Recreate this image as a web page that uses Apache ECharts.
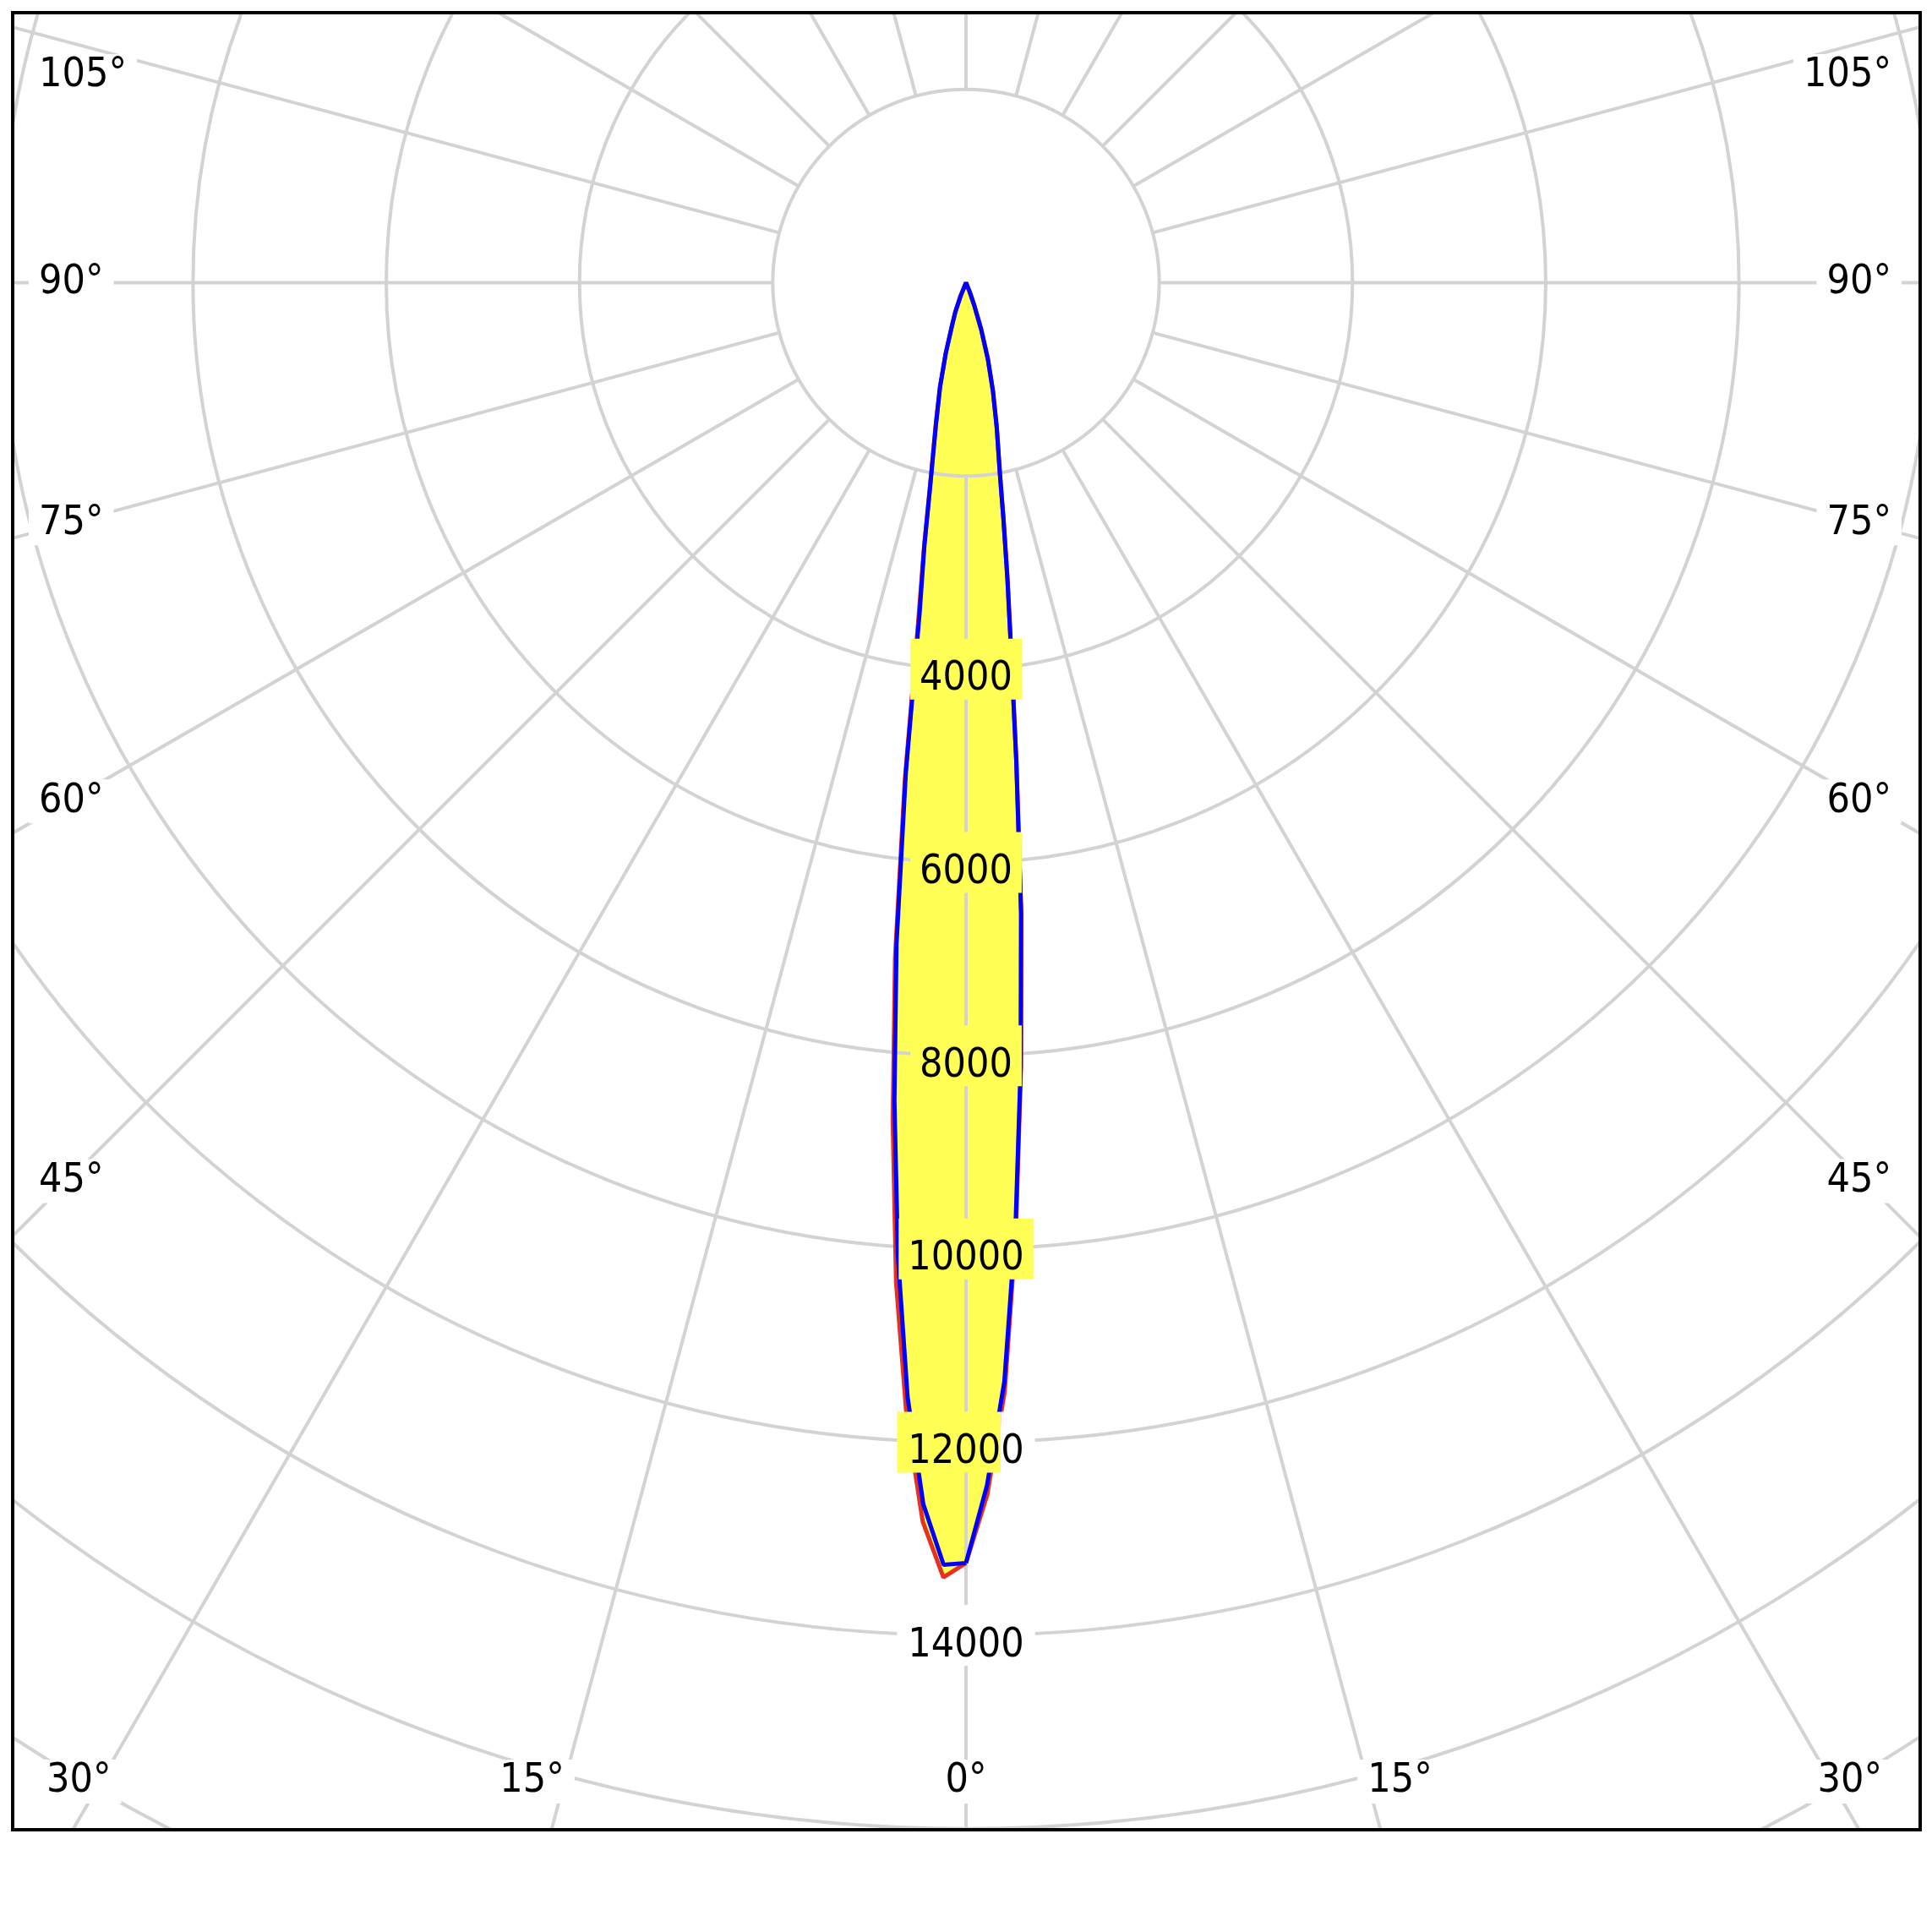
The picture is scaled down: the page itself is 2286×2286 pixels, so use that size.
<!DOCTYPE html>
<html><head><meta charset="utf-8">
<script src="https://cdn.jsdelivr.net/npm/echarts@6/dist/echarts.min.js"></script>
<style>
html,body{margin:0;padding:0;background:#fff;width:2286px;height:2286px;overflow:hidden}
#frame{position:absolute;left:13px;top:13px;width:2253px;height:2146px;border:4px solid #000;overflow:hidden;background:#fff}
#chart{width:2253px;height:2146px}
</style></head><body>
<div id="frame"><div id="chart"></div></div>
<script>
// ---- data (luminous intensity, cd) ----
const gammaDeg  = [0,1,2,3,4,5,6,7,8,9,10,12,14,16,18,20,22,25,30,45,60,75,90,105,120,135,150,165,180];
const redRight  = [13250,12550,11480,9850,8150,6560,4990,3830,3080,2480,2030,1530,1150,820,510,250,100,0,0,0,0,0,0,0,0,0,0,0,0];
const redLeft   = [13250,13400,12830,11750,10370,8700,7020,5200,3560,2780,2150,1510,1110,760,480,330,160,0,0,0,0,0,0,0,0,0,0,0,0];
const blueRight = [13250,12450,11380,9790,8120,6540,4980,3820,3070,2480,2030,1530,1150,820,510,250,100,0,0,0,0,0,0,0,0,0,0,0,0];
const blueLeft  = [13250,13270,12650,11550,10100,8500,6880,5110,3450,2750,2130,1490,1110,760,470,320,150,0,0,0,0,0,0,0,0,0,0,0,0];
const ringLabelValues = [4000,6000,8000,10000,12000,14000];
const sideAngleLabels = [105,90,75,60,45];
const bottomAngleLabels = [30,15,0];

// ---- styling / layout constants ----
const FONT = '"DejaVu Sans Condensed", "Noto Sans", sans-serif';
const FS = 48;
const GRID = '#d3d3d3';
const FILL = '#ffff55';
const CX = 1126, CY = 317.5, K = 0.11433;   // center in chart px, px per cd
const RMIN = 2000, RMAX = 20000, STEP = 2000;
const labelBgKind = {4000:'y', 6000:'y', 8000:'y', 10000:'y', 12000:'split', 14000:'w'};

function loop(right, left) {
  const out = [];
  for (let i = 0; i < gammaDeg.length; i++) out.push([right[i], gammaDeg[i]]);
  for (let i = gammaDeg.length - 1; i >= 0; i--) out.push([left[i], 360 - gammaDeg[i]]);
  return out;
}
const redLoop = loop(redRight, redLeft);
const blueLoop = loop(blueRight, blueLeft);

const base = {fontSize: FS, fontFamily: FONT, color: '#000', lineHeight: 32};
const rich = {
  y:  Object.assign({}, base, {backgroundColor: FILL, padding: [24,11,0,11]}),
  w:  Object.assign({}, base, {backgroundColor: '#fff', padding: [24,13,0,13]}),
  yl: Object.assign({}, base, {backgroundColor: FILL, padding: [24,0,0,13]}),
  wr: Object.assign({}, base, {backgroundColor: '#fff', padding: [24,13,0,0]})
};
const hiddenAngle = {type: 'value', min: 0, max: 360, startAngle: -90, clockwise: false,
  axisLine: {show: false}, axisTick: {show: false}, axisLabel: {show: false}, splitLine: {show: false}};

const chart = echarts.init(document.getElementById('chart'), null, {renderer: 'canvas'});
const option = {
  animation: false,
  backgroundColor: '#fff',
  polar: [
    {center: [CX, CY], radius: [0, RMAX * K]},            // data + ring labels
    {center: [CX, CY], radius: [RMIN * K, RMAX * K]}      // grid (starts at the 2000 ring)
  ],
  angleAxis: [
    Object.assign({polarIndex: 0, z: 10}, hiddenAngle),
    {polarIndex: 1, type: 'value', min: 0, max: 360, interval: 15, startAngle: -90, clockwise: false, z: 2,
     axisLine: {show: false}, axisTick: {show: false}, axisLabel: {show: false},
     splitLine: {show: true, lineStyle: {color: GRID, width: 4}}}
  ],
  radiusAxis: [
    {polarIndex: 0, type: 'value', min: 0, max: RMAX, interval: STEP, z: 10,
     axisLine: {show: false}, axisTick: {show: false}, splitLine: {show: false},
     axisLabel: {show: true, margin: 0, align: 'center', verticalAlign: 'middle', rich: rich,
       formatter: function (v) {
         if (ringLabelValues.indexOf(v) < 0) return '';
         const s = String(v), kind = labelBgKind[v];
         if (kind === 'split') return '{yl|' + s.slice(0, -1) + '}{wr|' + s.slice(-1) + '}';
         return '{' + kind + '|' + s + '}';
       }}},
    {polarIndex: 1, type: 'value', min: RMIN, max: RMAX, interval: STEP, z: 2,
     axisLine: {show: false}, axisTick: {show: false}, axisLabel: {show: false},
     splitLine: {show: true, lineStyle: {color: GRID, width: 4}}}
  ],
  series: [
    {name: 'C0-C180 fill', type: 'line', coordinateSystem: 'polar', polarIndex: 0, data: redLoop, z: 1,
     symbol: 'none', clip: false, silent: true, lineStyle: {width: 0, opacity: 0},
     areaStyle: {color: FILL, opacity: 1, origin: 0}},
    {name: 'C90-C270 fill', type: 'line', coordinateSystem: 'polar', polarIndex: 0, data: blueLoop, z: 1,
     symbol: 'none', clip: false, silent: true, lineStyle: {width: 0, opacity: 0},
     areaStyle: {color: FILL, opacity: 1, origin: 0}},
    {name: 'C0-C180', type: 'line', coordinateSystem: 'polar', polarIndex: 0, data: redLoop, z: 3,
     symbol: 'none', clip: false, lineStyle: {color: '#e8301e', width: 5}},
    {name: 'C90-C270', type: 'line', coordinateSystem: 'polar', polarIndex: 0, data: blueLoop, z: 4,
     symbol: 'none', clip: false, lineStyle: {color: '#0000ff', width: 5}}
  ]
};
chart.setOption(option);

// ---- angle labels where the spokes meet the frame ----
const mctx = document.createElement('canvas').getContext('2d');
mctx.font = FS + 'px ' + FONT;
const tw = s => mctx.measureText(s).width;
const px = (r, a) => chart.convertToPixel({polarIndex: 0}, [r, a]);
const PADX = 12;
const SIDE_TEXT_L = 29, SIDE_TEXT_R = 2221, SIDE_REF_L = 63, SIDE_REF_R = 2189, TOP_MIN = 73;
const BOTTOM_Y = 2091, BOTTOM_MIN_L = 38, BOTTOM_MAX_R = 2210;
const elements = [];
function addText(text, x, y, align) {
  elements.push({type: 'text', x: x, y: y, z: 20, silent: true,
    style: {text: text, fontSize: FS, fontFamily: FONT, fill: '#000', align: align, verticalAlign: 'middle',
            backgroundColor: '#fff', padding: [2, PADX, 2, PADX]}});
}
function spoke(a) { return [px(RMIN, a), px(RMAX, a)]; }
sideAngleLabels.forEach(g => {
  [[360 - g, 'L'], [g, 'R']].forEach(([a, side]) => {
    const [p1, p2] = spoke(a);
    const xr = side === 'L' ? SIDE_REF_L : SIDE_REF_R;
    const t = (xr - p1[0]) / (p2[0] - p1[0]);
    const y = Math.max(TOP_MIN, p1[1] + t * (p2[1] - p1[1]));
    const txt = g + '°';
    if (side === 'L') addText(txt, SIDE_TEXT_L - PADX, y, 'left');
    else addText(txt, SIDE_TEXT_R + PADX, y, 'right');
  });
});
bottomAngleLabels.forEach(g => {
  const sides = g === 0 ? [[0, 'C']] : [[360 - g, 'L'], [g, 'R']];
  sides.forEach(([a, side]) => {
    const [p1, p2] = spoke(a);
    const t = (BOTTOM_Y - p1[1]) / (p2[1] - p1[1]);
    const x = p1[0] + t * (p2[0] - p1[0]);
    const txt = g + '°', w = tw(txt);
    if (side === 'C') addText(txt, x, BOTTOM_Y, 'center');
    else if (side === 'L') { const right = Math.max(x, BOTTOM_MIN_L + w); addText(txt, right + PADX, BOTTOM_Y, 'right'); }
    else { const left = Math.min(x, BOTTOM_MAX_R - w); addText(txt, left - PADX, BOTTOM_Y, 'left'); }
  });
});
chart.setOption({graphic: {elements: elements}});
</script>
</body></html>
